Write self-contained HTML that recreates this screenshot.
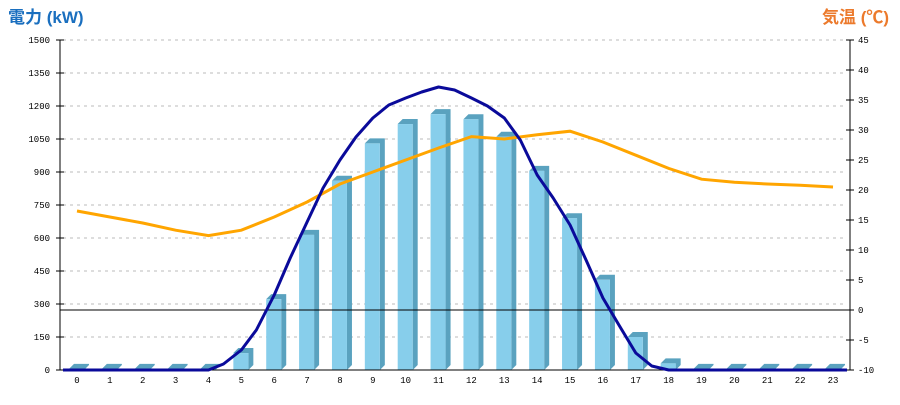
<!DOCTYPE html>
<html><head><meta charset="utf-8"><style>
body{margin:0;background:#fff;width:900px;height:400px;overflow:hidden}
svg text{font-family:"Liberation Mono",monospace;font-size:9px;fill:#000}
.t{font-family:"Liberation Sans","Noto Sans CJK JP",sans-serif;font-weight:bold;font-size:17px}
</style></head><body>
<svg id="s" width="900" height="400" xmlns="http://www.w3.org/2000/svg">
<text class="t" x="8" y="23" style="fill:#1a6fbf">電力 (kW)</text>
<text class="t" x="822" y="23" style="fill:#ec7a2c">気温 (℃)</text>
</svg>
<script>
var s=document.getElementById('s'),h='';
function X(i){return 77+i*32.87}
function Yp(v){return 370-v*0.22}
function Yt(t){return 310-t*6}
for(var k=0;k<=10;k++){var y=370-k*33;
 if(k>0)h+='<line x1="63" x2="846" y1="'+y+'" y2="'+y+'" stroke="#bbb" stroke-dasharray="3,4"/>';
 h+='<line x1="56" x2="64" y1="'+y+'" y2="'+y+'" stroke="#000"/>';
 h+='<text x="50" y="'+(y+3)+'" text-anchor="end">'+(k*150)+'</text>';}
for(var k=0;k<=11;k++){var y=370-k*30;
 h+='<line x1="846" x2="854" y1="'+y+'" y2="'+y+'" stroke="#000"/>';
 h+='<text x="858" y="'+(y+3)+'">'+(k*5-10)+'</text>';}
var P=[5,5,5,5,5,77,322,614,860,1030,1118,1163,1140,1060,905,690,410,150,30,5,5,5,5,5];
P.forEach(function(v,i){var c=X(i),t=Yp(v);
 h+='<polygon points="'+(c-8)+','+t+' '+(c-3)+','+(t-5)+' '+(c+12)+','+(t-5)+' '+(c+12)+','+(370-5)+' '+(c+7)+',370 '+(c+7)+','+t+'" fill="#5aa2bf"/>';
 h+='<rect x="'+(c-8)+'" y="'+t+'" width="15" height="'+(370-t)+'" fill="#87ceeb"/>';
 h+='<text x="'+c+'" y="383" text-anchor="middle">'+i+'</text>';});
h+='<line x1="60" x2="850" y1="310" y2="310" stroke="#000"/>';
h+='<line x1="60" x2="850" y1="370" y2="370" stroke="#000"/>';
h+='<line x1="60" x2="60" y1="40" y2="370" stroke="#000"/><line x1="850" x2="850" y1="40" y2="370" stroke="#000"/>';
var T=[16.5,15.5,14.5,13.3,12.4,13.3,15.5,18,21,23,25,27,28.9,28.5,29.2,29.8,28,25.8,23.6,21.8,21.3,21,20.8,20.5];
h+='<polyline fill="none" stroke="#ffa500" stroke-width="3" points="'+T.map(function(t,i){return X(i)+','+Yt(t)}).join(' ')+'"/>';
var B=[[63,370],[X(4),370],[X(4)+15,364],[X(5),350],[X(5)+15,330],[X(6),295],[X(6)+16,258],[X(7),222],[X(7)+16,188],[X(8),160],[X(8)+16,137],[X(9),118],[X(9)+16,105],[X(10),98],[X(10)+16,92],[X(11),87],[X(11)+16,90],[X(12),98],[X(12)+16,106],[X(13),118],[X(13)+16,140],[X(14),175],[X(14)+16,198],[X(15),225],[X(15)+16,260],[X(16),298],[X(16)+16,325],[X(17),353],[X(17)+16,366],[X(18),370],[847,370]];
h+='<polyline fill="none" stroke="#0a0a9a" stroke-width="3" stroke-linejoin="round" points="'+B.map(function(p){return p.join(',')}).join(' ')+'"/>';
s.insertAdjacentHTML('beforeend',h);
</script>
</body></html>
